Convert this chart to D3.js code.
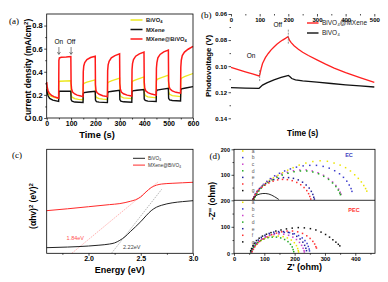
<!DOCTYPE html>
<html lang="en">
<head>
<meta charset="UTF-8">
<title>BiVO4 / MXene</title>
<script src="https://cdn.jsdelivr.net/npm/d3@7"></script>
<style>
body{margin:0;background:#fff;}
text{font-family:"Liberation Sans",Arial,sans-serif;}
</style>
</head>
<body>
<script>
// ---- (a) 光电流 i-t ----
var aRed = [[0,0.31],[2,0.27],[5,0.24],[10,0.215],[20,0.195],[30,0.185],[40,0.178],[49,0.172],
  [50,0.50],[52,0.52],[60,0.525],[80,0.528],[99,0.532],
  [100,0.30],[102,0.25],[106,0.225],[115,0.208],[125,0.198],[140,0.19],[149,0.186],
  [150,0.40],[152,0.45],[156,0.48],[165,0.505],[180,0.523],[199,0.535],
  [200,0.29],[202,0.24],[206,0.22],[215,0.205],[230,0.193],[249,0.185],
  [250,0.41],[252,0.46],[256,0.49],[265,0.52],[280,0.54],[299,0.555],
  [300,0.30],[302,0.25],[306,0.225],[315,0.21],[330,0.198],[349,0.19],
  [350,0.42],[352,0.47],[356,0.505],[365,0.535],[380,0.555],[399,0.57],
  [400,0.31],[402,0.26],[406,0.235],[415,0.22],[430,0.207],[449,0.198],
  [450,0.43],[452,0.48],[456,0.52],[465,0.55],[480,0.572],[499,0.588],
  [500,0.32],[502,0.27],[506,0.25],[515,0.235],[530,0.222],[549,0.215],
  [550,0.44],[552,0.50],[556,0.54],[565,0.57],[580,0.595],[600,0.62]];
var aYellow = [[0,0.27],[3,0.23],[8,0.205],[15,0.19],[30,0.178],[49,0.17],
  [50,0.31],[53,0.318],[99,0.322],
  [100,0.2],[104,0.18],[115,0.168],[130,0.162],[149,0.158],
  [150,0.29],[153,0.3],[165,0.31],[199,0.33],
  [200,0.2],[204,0.178],[215,0.168],[230,0.163],[249,0.16],
  [250,0.3],[253,0.31],[265,0.322],[299,0.345],
  [300,0.21],[304,0.185],[315,0.175],[349,0.168],
  [350,0.31],[353,0.32],[365,0.33],[399,0.355],
  [400,0.22],[404,0.195],[415,0.183],[449,0.175],
  [450,0.32],[453,0.335],[465,0.345],[499,0.37],
  [500,0.23],[504,0.205],[515,0.193],[549,0.185],
  [550,0.33],[553,0.345],[565,0.358],[600,0.385]];
var aBlack = [[0,0.25],[2,0.22],[6,0.19],[12,0.17],[25,0.155],[49,0.143],
  [50,0.225],[53,0.232],[99,0.232],
  [100,0.16],[104,0.145],[115,0.138],[149,0.134],
  [150,0.21],[153,0.22],[170,0.225],[199,0.232],
  [200,0.155],[204,0.142],[215,0.137],[249,0.133],
  [250,0.215],[253,0.226],[270,0.232],[299,0.24],
  [300,0.16],[304,0.146],[315,0.14],[349,0.137],
  [350,0.225],[353,0.235],[370,0.24],[399,0.247],
  [400,0.165],[404,0.152],[415,0.146],[449,0.143],
  [450,0.23],[453,0.242],[470,0.248],[499,0.257],
  [500,0.17],[504,0.157],[515,0.151],[549,0.148],
  [550,0.24],[553,0.252],[570,0.26],[600,0.272]];
var aXTicks = [0,100,200,300,400,500,600];
var aYTicks = [0,0.2,0.4,0.6,0.8];

// ---- (b) 光电压 ----
var bRed = [[0,0.101],[25,0.1027],[50,0.1044],[75,0.106],[98,0.1075],[100,0.107],[105,0.102],[110,0.098],
  [120,0.0935],[130,0.0903],[140,0.0875],[150,0.0853],[160,0.0832],[170,0.0815],[180,0.08],[190,0.0787],
  [198,0.0775],[200,0.078],[205,0.0805],[210,0.082],[220,0.0843],[235,0.087],[250,0.0893],[270,0.0918],
  [300,0.0952],[330,0.0985],[360,0.1015],[400,0.105],[450,0.1088],[500,0.1125]];
var bBlack = [[0,0.1165],[50,0.1168],[98,0.117],[100,0.1165],[110,0.1145],[125,0.1128],[150,0.1105],
  [175,0.1087],[198,0.1073],[200,0.1072],[205,0.108],[212,0.1095],[225,0.1105],[250,0.1113],[300,0.1123],
  [350,0.1133],[400,0.1143],[450,0.1152],[500,0.116]];
var bXTicks = [0,100,200,300,400,500];
var bYTicks = [0.06,0.08,0.10,0.12,0.14];
var bNames = ["BiVO\u2084@MXene", "BiVO\u2084"];

// ---- (c) Tauc ----
var cBlack = [[1.6,0.054],[1.8,0.06],[2.0,0.07],[2.1,0.078],[2.2,0.089],[2.25,0.1],[2.3,0.125],[2.35,0.16],
  [2.4,0.208],[2.45,0.255],[2.5,0.304],[2.55,0.36],[2.6,0.41],[2.65,0.443],[2.7,0.462],[2.8,0.485],[2.9,0.497],[3.0,0.506]];
var cRed = [[1.6,0.41],[1.8,0.428],[2.0,0.448],[2.2,0.468],[2.3,0.478],[2.4,0.5],[2.45,0.515],[2.5,0.542],
  [2.55,0.59],[2.6,0.632],[2.65,0.655],[2.7,0.666],[2.8,0.673],[2.9,0.678],[3.0,0.683]];
var cTanBlack = [[2.22,0],[2.7,0.615]];
var cTanRed = [[1.84,0],[2.67,0.69]];
var cXTicks = [2.0,2.5,3.0];

// ---- (d) EIS, EC ----
var ec_a = [[66,5],[70,15],[74,25],[80,36],[87,48],[95,58],[105,68],[117,78],[130,88],[145,98],[160,108],[177,118],[195,128],[215,138],[237,146],[260,152],[284,155],[308,153],[330,146],[350,138],[368,128],[384,115],[398,100],[410,86],[420,72],[428,58],[434,46],[438,36]];
var ec_b = [[65,5],[69,15],[74,26],[80,38],[88,50],[97,62],[108,74],[120,85],[134,96],[150,106],[167,115],[186,123],[206,130],[228,135],[250,137],[272,137],[294,133],[314,126],[332,116],[348,104],[361,90],[372,75],[380,60],[386,46],[389,35]];
var ec_c = [[64,5],[68,16],[73,27],[80,39],[88,50],[98,62],[110,73],[124,84],[140,94],[157,103],[176,110],[196,116],[217,119],[238,119],[258,115],[277,108],[295,98],[311,86],[325,72],[336,58],[345,44],[350,32],[353,24]];
var ec_d = [[66,4],[70,14],[75,25],[82,37],[90,48],[100,59],[112,70],[126,80],[142,90],[159,99],[178,106],[198,112],[219,115],[240,115],[260,111],[279,104],[296,94],[312,82],[325,68],[336,54],[344,40],[349,28],[351,22]];
var ec_e = [[63,5],[66,14],[70,24],[76,35],[84,46],[93,56],[104,65],[117,74],[131,81],[147,86],[163,89],[180,89],[196,86],[212,80],[226,71],[238,60],[248,48],[255,35],[260,23],[263,12],[265,5]];
var ec_f = [[63,4],[66,12],[70,22],[76,32],[83,42],[92,51],[103,60],[115,68],[129,75],[144,80],[160,82],[176,81],[192,77],[207,70],[220,61],[231,50],[240,38],[246,26],[250,15],[253,5]];
var ec_g = [[62,3],[64,8],[67,13],[72,18],[78,22],[86,25],[95,27],[105,27],[115,25],[125,20],[134,14],[142,8],[148,3]];
// PEC
var pec_a = [[56,5],[60,14],[65,23],[72,32],[80,41],[90,49],[102,56],[115,61],[130,64],[146,65],[162,63],[176,58],[189,50],[199,40],[206,29],[210,18],[212,10],[213,5]];
var pec_b = [[58,6],[62,15],[67,25],[74,35],[82,45],[92,54],[104,62],[118,69],[133,74],[149,78],[166,79],[183,78],[199,74],[213,67],[225,58],[234,48],[241,37],[245,26],[248,16],[249,9]];
var pec_c = [[57,5],[61,14],[66,24],[73,34],[81,44],[91,53],[103,61],[117,67],[132,71],[148,73],[164,72],[180,68],[194,61],[206,52],[216,41],[223,30],[228,19],[231,10],[232,5]];
var pec_d = [[55,5],[59,13],[64,22],[70,31],[78,40],[88,48],[99,54],[112,59],[126,61],[140,61],[154,58],[167,52],[178,44],[186,34],[192,24],[195,14],[197,6]];
var pec_e = [[56,7],[60,17],[65,28],[72,39],[80,50],[90,60],[102,68],[116,75],[131,80],[147,82],[163,82],[179,79],[194,73],[207,64],[218,54],[227,42],[233,30],[237,19],[239,10]];
var pec_f = [[60,6],[64,15],[69,25],[76,35],[85,45],[96,54],[109,62],[124,70],[140,76],[157,81],[175,84],[193,84],[210,81],[226,75],[240,66],[251,56],[260,45],[266,35],[270,25],[272,20]];
var pec_g = [[55,10],[58,18],[62,28],[67,38],[74,48],[83,57],[94,65],[107,72],[122,78],[138,84],[155,88],[173,92],[192,95],[212,97],[232,96],[252,93],[270,88],[287,80],[302,71],[315,61],[326,51],[336,42],[344,34],[349,28]];
var dLetters = ["a","b","c","d","e","f","g"];
var dColors = ["#ece400","#3a3acc","#cc44cc","#22aa22","#222299","#ff3030","#111111"];
var dXTicks = [0,100,200,300,400];

var W = 388, H = 282;
var svg = d3.select("body").append("svg")
    .attr("width", W).attr("height", H)
    .style("background-color", "#fff");

// 坐标轴 + 边框
function axes(g, x, y, o) {
    var x0 = x.range()[0], x1 = x.range()[1], y0 = y.range()[0], y1 = y.range()[1];
    if (o.xMinor) g.append("g").attr("transform", "translate(0," + y0 + ")")
        .call(d3.axisBottom(x).tickValues(o.xMinor).tickSize(1.5).tickFormat(""));
    var gx = g.append("g").attr("transform", "translate(0," + y0 + ")")
        .call(d3.axisBottom(x).tickValues(o.xTicks).tickSize(2.5).tickPadding(o.xPad == null ? 1.5 : o.xPad).tickFormat(o.xFmt));
    gx.selectAll("text").attr("font-size", o.fs).attr("font-weight", "bold").attr("font-family", "Liberation Sans, Arial");
    if (o.yTicks) {
        if (o.yMinor) g.append("g").attr("transform", "translate(" + x0 + ",0)")
            .call(d3.axisLeft(y).tickValues(o.yMinor).tickSize(1.5).tickFormat(""));
        var gy = g.append("g").attr("transform", "translate(" + x0 + ",0)")
            .call(d3.axisLeft(y).tickValues(o.yTicks).tickSize(2.5).tickPadding(1.5).tickFormat(o.yFmt));
        gy.selectAll("text").attr("font-size", o.fsY || o.fs).attr("font-weight", "bold").attr("font-family", "Liberation Sans, Arial");
    }
    g.selectAll(".domain").remove();
    g.selectAll(".tick line").attr("stroke-width", 0.7);
    g.append("rect").attr("x", x0).attr("y", y1).attr("width", x1 - x0).attr("height", y0 - y1)
        .attr("fill", "none").attr("stroke", "#000").attr("stroke-width", 0.8);
}

function title(g, x, y, fs, rot) {
    return g.append("text").attr("transform", "translate(" + x + "," + y + ")" + (rot ? " rotate(-90)" : ""))
        .attr("text-anchor", "middle").attr("font-size", fs).attr("font-weight", "bold");
}

// 上下标
function subText(t, parts) {
    parts.forEach(function (p) {
        var s = t.append("tspan").text(p[0]);
        if (p[1] == "sub") s.attr("font-size", "70%").attr("dy", 1.3);
        if (p[1] == "sup") s.attr("font-size", "70%").attr("dy", -3);
        if (p[1] == "down") s.attr("dy", 3);
    });
}

function panelLabel(txt, x, y) {
    svg.append("text").attr("x", x).attr("y", y).attr("font-size", 9)
        .style("font-family", "Liberation Serif, Times New Roman, serif").text(txt);
}

// ================= (a) =================
var ga = svg.append("g");
var xa = d3.scaleLinear().domain([0, 600]).range([46.7, 193]);
var ya = d3.scaleLinear().domain([0, 0.9]).range([118, 14]);
var lineA = d3.line().x(function (d) { return xa(d[0]); }).y(function (d) { return ya(d[1]); });
ga.append("path").datum(aYellow).attr("d", lineA).attr("fill", "none").attr("stroke", "#ece820").attr("stroke-width", 1.3);
ga.append("path").datum(aBlack).attr("d", lineA).attr("fill", "none").attr("stroke", "#111").attr("stroke-width", 1.4);
ga.append("path").datum(aRed).attr("d", lineA).attr("fill", "none").attr("stroke", "#ff1a1a").attr("stroke-width", 1.5);
axes(ga, xa, ya, {xTicks: aXTicks, xMinor: [50,150,250,350,450,550], xFmt: d3.format("d"), xPad: 1,
    yTicks: aYTicks, yMinor: [0.1,0.3,0.5,0.7], yFmt: d3.format(".1f"), fs: 7, fsY: 7.5});
var tya = title(ga, 31, 70, 8.5, true);
subText(tya, [["Current density (mA/cm"], ["2", "sup"], [")", "down"]]);
title(ga, 97, 138, 9.3).text("Time (s)");
// legend
var legA = [["#ece820", [["BiVO"], ["4", "sub"]]], ["#111", [["MXene"]]], ["#ff1a1a", [["MXene@BiVO"], ["4", "sub"]]]];
legA.forEach(function (l, i) {
    var yy = 20 + i * 9.5;
    ga.append("line").attr("x1", 130.5).attr("x2", 142.5).attr("y1", yy).attr("y2", yy).attr("stroke", l[0]).attr("stroke-width", 1.5);
    var t = ga.append("text").attr("x", 146).attr("y", yy + 2).attr("font-size", 5.8).attr("font-weight", "bold").attr("fill", "#222");
    subText(t, l[1]);
});
// On / Off 箭头
[[50, "On"], [100, "Off"]].forEach(function (p) {
    ga.append("text").attr("x", xa(p[0])).attr("y", 44).attr("text-anchor", "middle").attr("font-size", 6.5).text(p[1]);
    ga.append("line").attr("x1", xa(p[0])).attr("x2", xa(p[0])).attr("y1", 47).attr("y2", 54).attr("stroke", "#333").attr("stroke-width", 0.6);
    ga.append("path").attr("d", "M" + (xa(p[0]) - 1.5) + ",52 L" + xa(p[0]) + ",54.5 L" + (xa(p[0]) + 1.5) + ",52")
        .attr("fill", "none").attr("stroke", "#333").attr("stroke-width", 0.6);
});
panelLabel("(a)", 9, 24);

// ================= (b) =================
var gb = svg.append("g");
var xb = d3.scaleLinear().domain([0, 500]).range([231, 374.3]);
var yb = d3.scaleLinear().domain([0.06, 0.14]).range([14, 118.3]);
var lineB = d3.line().x(function (d) { return xb(d[0]); }).y(function (d) { return yb(d[1]); });
gb.append("path").datum(bBlack).attr("d", lineB).attr("fill", "none").attr("stroke", "#111").attr("stroke-width", 1.3);
gb.append("path").datum(bRed).attr("d", lineB).attr("fill", "none").attr("stroke", "#ff2020").attr("stroke-width", 1.3);
// 虚线标记
[[100, 0.103, 0.112], [200, 0.072, 0.083]].forEach(function (d) {
    gb.append("line").attr("x1", xb(d[0])).attr("x2", xb(d[0])).attr("y1", yb(d[1])).attr("y2", yb(d[2]))
        .attr("stroke", "#777").attr("stroke-width", 0.8).attr("stroke-dasharray", "2,1");
});
axes(gb, xb, yb, {xTicks: bXTicks, xMinor: [50,150,250,350,450], xFmt: d3.format("d"),
    yTicks: bYTicks, yMinor: [0.07,0.09,0.11,0.13], yFmt: d3.format(".2f"), fs: 6});
title(gb, 211, 66, 7.8, true).text("Photovoltage (V)");
title(gb, 302.7, 136, 8.2).text("Time (s)");
gb.append("text").attr("x", xb(70)).attr("y", yb(0.092) + 2).attr("text-anchor", "middle").attr("font-size", 6.5).text("On");
gb.append("text").attr("x", xb(163)).attr("y", yb(0.0685) + 2).attr("text-anchor", "middle").attr("font-size", 6.5).text("Off");
["#ff2020", "#111"].forEach(function (col, i) {
    var yy = 23 + i * 10;
    gb.append("line").attr("x1", 307).attr("x2", 318.5).attr("y1", yy).attr("y2", yy).attr("stroke", col).attr("stroke-width", 1.4);
    gb.append("text").attr("x", 322).attr("y", yy + 2.3).attr("font-size", 6.5).attr("fill", "#222").text(bNames[i]);
});
panelLabel("(b)", 201, 18);

// ================= (c) =================
var gc = svg.append("g");
var xc = d3.scaleLinear().domain([1.6, 3.0]).range([46.7, 193]);
var yc = d3.scaleLinear().domain([0, 1]).range([253.3, 149.3]);
var lineC = d3.line().x(function (d) { return xc(d[0]); }).y(function (d) { return yc(d[1]); });
gc.append("path").datum(cTanRed).attr("d", lineC).attr("stroke", "#ff8080").attr("stroke-width", 0.6).attr("stroke-dasharray", "1.5,1");
gc.append("path").datum(cTanBlack).attr("d", lineC).attr("stroke", "#888").attr("stroke-width", 0.6).attr("stroke-dasharray", "1.5,1");
gc.append("path").datum(cBlack).attr("d", lineC.curve(d3.curveMonotoneX)).attr("fill", "none").attr("stroke", "#222").attr("stroke-width", 1);
gc.append("path").datum(cRed).attr("d", lineC).attr("fill", "none").attr("stroke", "#ff2a2a").attr("stroke-width", 1);
axes(gc, xc, yc, {xTicks: cXTicks, xMinor: [1.75,2.25,2.75], xFmt: d3.format(".1f"), fs: 7, xPad: 0.5});
title(gc, 119.8, 273, 9).text("Energy (eV)");
var tyc = title(gc, 36, 206, 8.5, true);
subText(tyc, [["(\u03B1hv)"], ["2", "sup"], [" (eV)", "down"], ["2", "sup"]]);
gc.append("text").attr("x", xc(1.79)).attr("y", yc(0.15) + 2).attr("font-size", 5.5).attr("fill", "#ff5050").text("1.84eV");
gc.append("text").attr("x", xc(2.33)).attr("y", yc(0.06) + 2).attr("font-size", 5.5).attr("fill", "#444").text("2.22eV");
var legC = [["#222", [["BiVO"], ["4", "sub"]]], ["#ff2a2a", [["MXene@BiVO"], ["4", "sub"]]]];
legC.forEach(function (l, i) {
    var yy = 158.3 + i * 6.8;
    gc.append("line").attr("x1", 133).attr("x2", 145).attr("y1", yy).attr("y2", yy).attr("stroke", l[0]).attr("stroke-width", 1);
    var t = gc.append("text").attr("x", 148).attr("y", yy + 1.6).attr("font-size", 4.8).attr("fill", "#333");
    subText(t, l[1]);
});
panelLabel("(c)", 12, 158);

// ================= (d) =================
var gd = svg.append("g");
var xd = d3.scaleLinear().domain([0, 465]).range([234, 375]);
var ydu = d3.scaleLinear().domain([0, 200]).range([200.3, 149.3]);
var ydl = d3.scaleLinear().domain([0, 200]).range([253.3, 200.3]);
var ecAll = [ec_a, ec_b, ec_c, ec_d, ec_e, ec_f];
var pecAll = [pec_a, pec_b, pec_c, pec_d, pec_e, pec_f, pec_g];
function dots(data, y, col) {
    gd.append("g").selectAll("rect").data(data).enter().append("rect")
        .attr("x", function (d) { return xd(d[0]) - 0.75; })
        .attr("y", function (d) { return y(d[1]) - 0.75; })
        .attr("width", 1.5).attr("height", 1.5).attr("fill", col);
}
ecAll.forEach(function (s, i) { dots(s, ydu, dColors[i]); });
gd.append("path").datum(ec_g).attr("d", d3.line().curve(d3.curveBasis)
    .x(function (d) { return xd(d[0]); }).y(function (d) { return ydu(d[1]); }))
    .attr("fill", "none").attr("stroke", "#111").attr("stroke-width", 0.9);
pecAll.forEach(function (s, i) { dots(s, ydl, dColors[i]); });

// 上下两个面板的坐标轴
gd.append("g").attr("transform", "translate(0,253.3)")
    .call(d3.axisBottom(xd).tickValues([50,150,250,350,450]).tickSize(1.5).tickFormat(""));
var gdx = gd.append("g").attr("transform", "translate(0,253.3)")
    .call(d3.axisBottom(xd).tickValues(dXTicks).tickSize(2.5).tickPadding(1.5).tickFormat(d3.format("d")));
gdx.selectAll("text").attr("font-size", 5.8).attr("font-weight", "bold");
var gdyu = gd.append("g").attr("transform", "translate(234,0)")
    .call(d3.axisLeft(ydu).tickValues([100, 200]).tickSize(2.5).tickPadding(1.5).tickFormat(d3.format("d")));
var gdyl = gd.append("g").attr("transform", "translate(234,0)")
    .call(d3.axisLeft(ydl).tickValues([0, 100, 200]).tickSize(2.5).tickPadding(1.5).tickFormat(d3.format("d")));
gd.append("g").attr("transform", "translate(234,0)").call(d3.axisLeft(ydu).tickValues([50,150]).tickSize(1.5).tickFormat(""));
gd.append("g").attr("transform", "translate(234,0)").call(d3.axisLeft(ydl).tickValues([50,150]).tickSize(1.5).tickFormat(""));
gdyu.selectAll("text").attr("font-size", 5.5).attr("font-weight", "bold");
gdyl.selectAll("text").attr("font-size", 5.5).attr("font-weight", "bold");
gd.selectAll(".domain").remove();
gd.selectAll(".tick line").attr("stroke-width", 0.7);
gd.append("rect").attr("x", 234).attr("y", 149.3).attr("width", 141).attr("height", 104)
    .attr("fill", "none").attr("stroke", "#000").attr("stroke-width", 0.8);
gd.append("line").attr("x1", 234).attr("x2", 375).attr("y1", ydl(200)).attr("y2", ydl(200)).attr("stroke", "#000").attr("stroke-width", 0.8);

// 图例 a-g
[151, 202.3].forEach(function (y0) {
    dLetters.forEach(function (ch, i) {
        var yy = y0 + i * 6.6;
        gd.append("rect").attr("x", 242).attr("y", yy - 0.75).attr("width", 1.5).attr("height", 1.5).attr("fill", dColors[i]);
        gd.append("text").attr("x", 251.7).attr("y", yy + 1.8).attr("font-size", 5).attr("fill", "#555").text(ch);
    });
});
gd.append("text").attr("x", 349).attr("y", 157).attr("text-anchor", "middle").attr("font-size", 5.5).attr("font-weight", "bold").attr("fill", "#4040c0").text("EC");
gd.append("text").attr("x", 354).attr("y", 212).attr("text-anchor", "middle").attr("font-size", 5.5).attr("font-weight", "bold").attr("fill", "#ff3030").text("PEC");
title(gd, 304.5, 270, 9).text("Z' (ohm)");
title(gd, 215, 201, 8.5, true).text("-Z'' (ohm)");
panelLabel("(d)", 209.5, 159);
</script>
</body>
</html>
